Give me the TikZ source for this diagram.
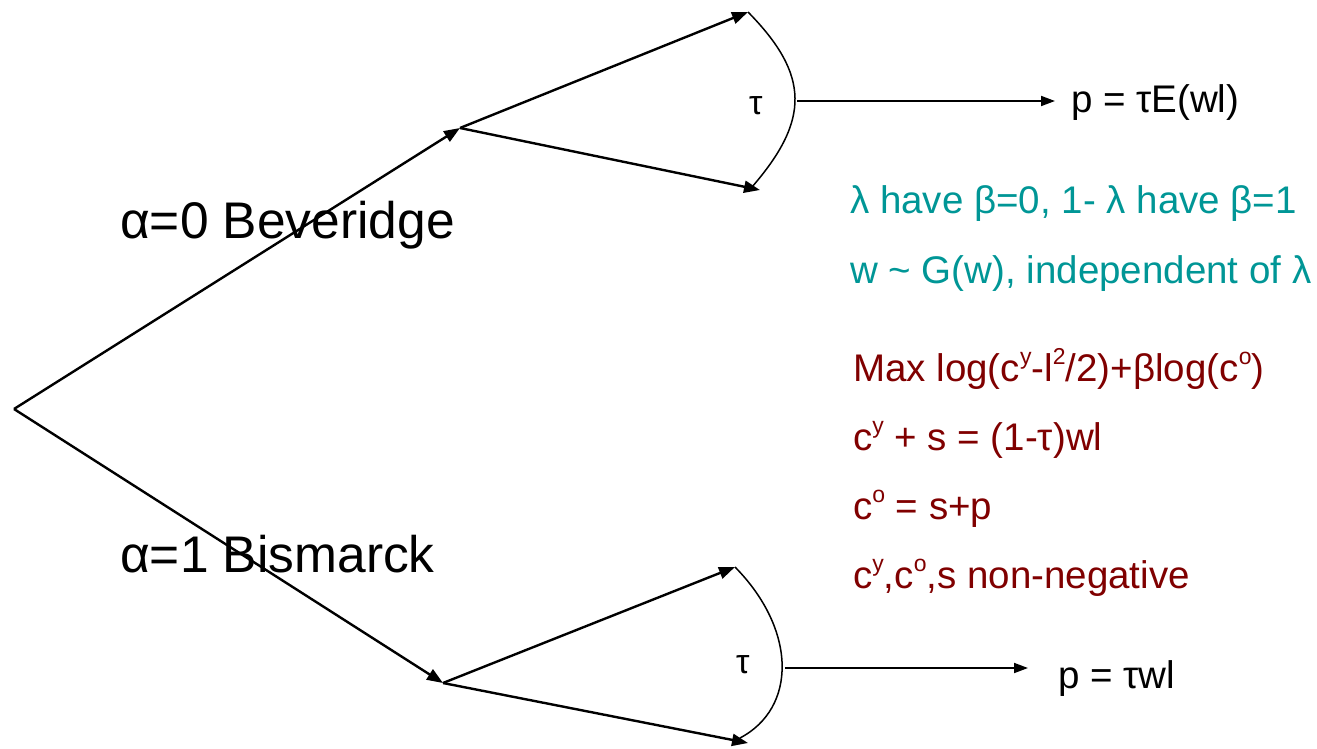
\documentclass[tikz,border=0pt]{standalone}
\usepackage{fontspec}
\setmainfont{Liberation Sans}
\usetikzlibrary{arrows.meta}
\definecolor{tealtxt}{RGB}{0,150,150}
\definecolor{redtxt}{RGB}{128,0,0}
\newcommand\upsc[1]{\raisebox{0.42em}{\fontsize{23}{23}\selectfont #1}}
\begin{document}
\begin{tikzpicture}[x=1pt,y=-1pt,
  branch/.style={line width=2.4pt,-{Triangle[length=16pt,width=12pt]}},
  taxarc/.style={line width=1.5pt},
  payout/.style={line width=1.8pt,-{Triangle[length=14pt,width=10pt]}},
  bigtxt/.style={anchor=base west,inner sep=0pt,font=\fontsize{51.5}{56}\selectfont},
  txt/.style={anchor=base west,inner sep=0pt,font=\fontsize{38.5}{44}\selectfont},
  taulbl/.style={anchor=base west,inner sep=0pt,font=\fontsize{34}{38}\selectfont}]
\useasboundingbox (0,0) rectangle (1317,749);
% tree points
\coordinate (root) at (14,409);
\coordinate (umid) at (460,128);
\coordinate (utop) at (748,12);
\coordinate (ubot) at (760,190);
\coordinate (ubend) at (797,101);
\coordinate (upay) at (1055,101);
\coordinate (lmid) at (443,683);
\coordinate (ltop) at (735,567);
\coordinate (lbot) at (748,743);
\coordinate (lbend) at (785,668);
\coordinate (lpay) at (1028,668);
% branches
\draw[branch] (root) -- (umid);
\draw[branch] (root) -- (lmid);
\draw[branch] (umid) -- (utop);
\draw[branch] (umid) -- (ubot);
\draw[branch] (lmid) -- (ltop);
\draw[branch] (lmid) -- (lbot);
% tax arcs
\draw[taxarc] (utop) .. controls (810,75) and (810,120) .. (752,187);
\draw[taxarc] (ltop) .. controls (797,630) and (797,708) .. (740,738);
\draw[payout] (ubend) -- (upay);
\draw[payout] (lbend) -- (lpay);
% labels
\node[taulbl] (tauU) at (749,115) {τ};
\node[taulbl] (tauL) at (736,673) {τ};
\node[txt] (pU) at (1071,113) {p = τE(wl)};
\node[txt] (pL) at (1058,688) {p = τwl};
\node[bigtxt] (bev) at (120,238) {α=0 Beveridge};
\node[bigtxt] (bis) at (120,572) {α=1 Bismarck};
\node[txt,text=tealtxt] (g1) at (850,213) {λ have β=0, 1- λ have β=1};
\node[txt,text=tealtxt] (g2) at (850,283) {w \textasciitilde\ G(w), independent of λ};
\node[txt,text=redtxt] (r1) at (853,381) {Max log(c\upsc{y}-l\upsc{2}/2)+βlog(c\upsc{o})};
\node[txt,text=redtxt] (r2) at (853,450) {c\upsc{y} + s = (1-τ)wl};
\node[txt,text=redtxt] (r3) at (853,519) {c\upsc{o} = s+p};
\node[txt,text=redtxt] (r4) at (853,588) {c\upsc{y},c\upsc{o},s non-negative};
\end{tikzpicture}
\end{document}
